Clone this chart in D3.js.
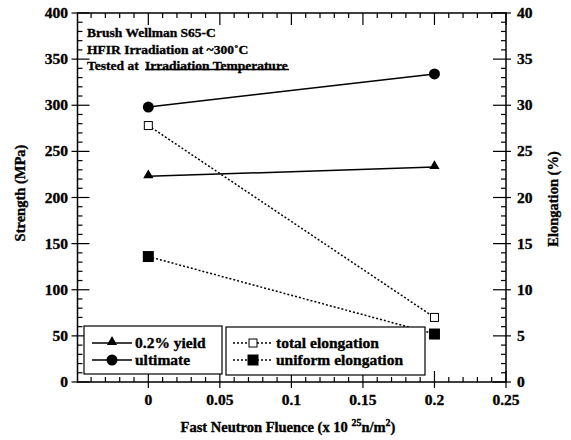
<!DOCTYPE html>
<html>
<head>
<meta charset="utf-8">
<script src="https://cdn.jsdelivr.net/npm/d3@7"></script>
<style>
  body { margin: 0; background: #fff; }
  svg text { font-family: "Liberation Serif", "Times New Roman", serif; font-weight: 700; fill: #000; stroke: #000; stroke-width: 0.35px; }
</style>
</head>
<body>
<svg id="chart" width="571" height="440"></svg>
<script>
// fluence values (x 10^25 n/m^2)
var fluence = [0, 0.2];
// strength, MPa (left axis)
var yieldStrength = [223, 233];
var ultimateStrength = [298, 334];
// elongation, % (right axis)
var totalElong = [27.8, 7.0];
var uniformElong = [13.6, 5.2];

var xTicks = [0, 0.05, 0.1, 0.15, 0.2, 0.25];
var yTicks = [0, 50, 100, 150, 200, 250, 300, 350, 400];
var y2Ticks = [0, 5, 10, 15, 20, 25, 30, 35, 40];
var notes = ["Brush Wellman S65-C", "HFIR Irradiation at ~300˚C", "Tested at "];

var svg = d3.select("#chart");
var L = 77.5, R = 506, T = 13, B = 382;

var x = d3.scaleLinear().domain([-0.0495, 0.25]).range([L, R]);
var y = d3.scaleLinear().domain([0, 400]).range([B, T]);
var y2 = d3.scaleLinear().domain([0, 40]).range([B, T]);

// frame
svg.append("rect").attr("x", L).attr("y", T).attr("width", R - L).attr("height", B - T)
  .attr("fill", "none").attr("stroke", "#000").attr("stroke-width", 1.5);

var ax = svg.append("g").attr("stroke", "#000").attr("stroke-width", 1.2);

// x minor ticks (every 0.01)
d3.range(-4, 25).map(function(i){ return i / 100; }).forEach(function(v){
  if (Math.abs(v * 20 - Math.round(v * 20)) < 1e-9) return;
  ax.append("line").attr("x1", x(v)).attr("x2", x(v)).attr("y1", B).attr("y2", B - 5);
  ax.append("line").attr("x1", x(v)).attr("x2", x(v)).attr("y1", T).attr("y2", T + 5);
});
xTicks.forEach(function(v){
  ax.append("line").attr("x1", x(v)).attr("x2", x(v)).attr("y1", B + 6).attr("y2", B - 11);
  ax.append("line").attr("x1", x(v)).attr("x2", x(v)).attr("y1", T).attr("y2", T + 12);
});
svg.append("g").selectAll("text").data(xTicks).join("text")
  .attr("x", function(d){ return x(d); }).attr("y", 405)
  .attr("text-anchor", "middle").attr("font-size", 15.5)
  .text(function(d){ return d; });

// left axis
d3.range(0, 400, 10).forEach(function(v){
  if (v % 50 === 0) return;
  ax.append("line").attr("x1", L).attr("x2", L + 5).attr("y1", y(v)).attr("y2", y(v));
});
yTicks.forEach(function(v){
  ax.append("line").attr("x1", L - 6).attr("x2", L + 12).attr("y1", y(v)).attr("y2", y(v));
});
svg.append("g").selectAll("text").data(yTicks).join("text")
  .attr("x", 68).attr("y", function(d){ return y(d) + 5; })
  .attr("text-anchor", "end").attr("font-size", 15.5)
  .text(function(d){ return d; });

// right axis
d3.range(0, 40, 1).forEach(function(v){
  if (v % 5 === 0) return;
  ax.append("line").attr("x1", R).attr("x2", R - 5).attr("y1", y2(v)).attr("y2", y2(v));
});
y2Ticks.forEach(function(v){
  ax.append("line").attr("x1", R + 5).attr("x2", R - 13).attr("y1", y2(v)).attr("y2", y2(v));
});
svg.append("g").selectAll("text").data(y2Ticks).join("text")
  .attr("x", 517).attr("y", function(d){ return y2(d) + 5; })
  .attr("text-anchor", "start").attr("font-size", 15.5)
  .text(function(d){ return d; });

// axis titles
svg.append("text").attr("transform", "translate(25,193) rotate(-90)")
  .attr("text-anchor", "middle").attr("font-size", 14.5).text("Strength (MPa)");
svg.append("text").attr("transform", "translate(558,199) rotate(-90)")
  .attr("text-anchor", "middle").attr("font-size", 14.5).text("Elongation (%)");
var xl = svg.append("text").attr("x", 288).attr("y", 432).attr("text-anchor", "middle").attr("font-size", 14.5);
xl.append("tspan").text("Fast Neutron Fluence (x 10 ");
xl.append("tspan").attr("font-size", 10).attr("dy", -6).text("25");
xl.append("tspan").attr("dy", 6).text("n/m");
xl.append("tspan").attr("font-size", 10).attr("dy", -6).text("2");
xl.append("tspan").attr("dy", 6).text(")");

// annotation
notes.forEach(function(s, i){
  svg.append("text").attr("x", 87).attr("y", 37 + i * 16.5).attr("font-size", 13.5).text(s);
});
svg.append("text").attr("x", 145).attr("y", 70).attr("font-size", 13.5).text("Irradiation Temperature");
svg.append("line").attr("x1", 145).attr("x2", 289).attr("y1", 69.5).attr("y2", 69.5)
  .attr("stroke", "#000").attr("stroke-width", 1.5);

// series
var lineS = d3.line().x(function(d){ return x(d[0]); }).y(function(d){ return y(d[1]); });
var lineE = d3.line().x(function(d){ return x(d[0]); }).y(function(d){ return y2(d[1]); });
function pairs(vals){ return fluence.map(function(f, i){ return [f, vals[i]]; }); }

svg.append("path").attr("d", lineE(pairs(totalElong))).attr("fill", "none")
  .attr("stroke", "#000").attr("stroke-width", 1.5).attr("stroke-dasharray", "2,2");
svg.append("path").attr("d", lineE(pairs(uniformElong))).attr("fill", "none")
  .attr("stroke", "#000").attr("stroke-width", 1.5).attr("stroke-dasharray", "2,2");
svg.append("path").attr("d", lineS(pairs(yieldStrength))).attr("fill", "none")
  .attr("stroke", "#000").attr("stroke-width", 1.5);
svg.append("path").attr("d", lineS(pairs(ultimateStrength))).attr("fill", "none")
  .attr("stroke", "#000").attr("stroke-width", 1.5);

var tri = d3.symbol().type(d3.symbolTriangle).size(45);
function marker(g, kind, cx, cy){
  if (kind === "tri") g.append("path").attr("d", tri()).attr("transform", "translate(" + cx + "," + (cy - 1) + ")").attr("fill", "#000");
  if (kind === "circ") g.append("circle").attr("cx", cx).attr("cy", cy).attr("r", 5.5).attr("fill", "#000");
  if (kind === "open") g.append("rect").attr("x", cx - 4).attr("y", cy - 4).attr("width", 8).attr("height", 8)
    .attr("fill", "#fff").attr("stroke", "#000").attr("stroke-width", 1);
  if (kind === "fill") g.append("rect").attr("x", cx - 5.5).attr("y", cy - 5.5).attr("width", 11).attr("height", 11).attr("fill", "#000");
}
var mk = svg.append("g");
fluence.forEach(function(f, i){
  marker(mk, "tri", x(f), y(yieldStrength[i]));
  marker(mk, "circ", x(f), y(ultimateStrength[i]));
  marker(mk, "open", x(f), y2(totalElong[i]));
  marker(mk, "fill", x(f), y2(uniformElong[i]));
});

// legends
var leg = svg.append("g");
leg.append("rect").attr("x", 84).attr("y", 326).attr("width", 138).attr("height", 48)
  .attr("fill", "#fff").attr("stroke", "#000").attr("stroke-width", 1.2);
leg.append("rect").attr("x", 226).attr("y", 327).attr("width", 199).attr("height", 48)
  .attr("fill", "#fff").attr("stroke", "#000").attr("stroke-width", 1.2);
[["tri", "0.2% yield", 343], ["circ", "ultimate", 360]].forEach(function(r){
  leg.append("line").attr("x1", 92).attr("x2", 132).attr("y1", r[2]).attr("y2", r[2])
    .attr("stroke", "#000").attr("stroke-width", 1.5);
  marker(leg, r[0], 112, r[2]);
  leg.append("text").attr("x", 135).attr("y", r[2] + 5).attr("font-size", 15.5).text(r[1]);
});
[["open", "total elongation", 343], ["fill", "uniform elongation", 360]].forEach(function(r){
  leg.append("line").attr("x1", 233).attr("x2", 273).attr("y1", r[2]).attr("y2", r[2])
    .attr("stroke", "#000").attr("stroke-width", 1.5).attr("stroke-dasharray", "2,2");
  marker(leg, r[0], 253, r[2]);
  leg.append("text").attr("x", 276).attr("y", r[2] + 5).attr("font-size", 15.5).text(r[1]);
});
</script>
</body>
</html>
